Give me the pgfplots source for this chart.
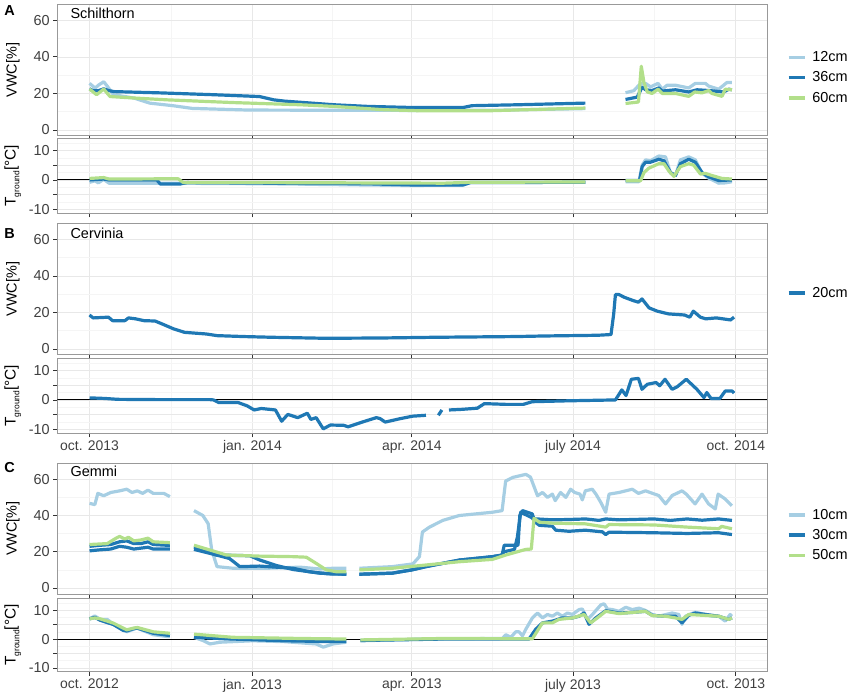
\documentclass[border=0pt]{standalone}
\usepackage{fontspec}
\setmainfont{Liberation Sans}
\usepackage{pgfplots}
\pgfplotsset{compat=1.18}
\definecolor{c1}{HTML}{A6CEE3}
\definecolor{c2}{HTML}{1F78B4}
\definecolor{c3}{HTML}{B2DF8A}
\pgfplotsset{
  base/.style={
    scale only axis, width=709.7bp,
    xmin=-18.2, xmax=382.6,
    xtick={0,92,182,273,365}, minor xtick={46,137,227.5,319},
    grid=both,
    major grid style={draw=black!9, line width=0.7bp},
    minor grid style={draw=black!4, line width=0.5bp},
    axis line style={draw=black!40, line width=1bp},
    tick align=outside, tick pos=left,
    major tick length=4bp, minor tick length=0pt,
    tick style={draw=black!80, line width=0.8bp},
    ticklabel style={text=black!75},
    /pgf/number format/assume math mode=true,
    yticklabel style={font=\fontsize{14.5}{14.5}\selectfont},
    xticklabel style={font=\fontsize{14}{14}\selectfont},
    unbounded coords=jump,
    clip mode=individual,
    every axis plot/.append style={line width=3.2bp, line join=round},
    legend style={draw=none, fill=none, inner sep=0pt, font=\fontsize{14.5}{14.5}\selectfont, row sep=4.7bp,
      /tikz/every odd column/.append style={column sep=3.5bp}},
    legend cell align=left,
    legend image code/.code={\draw[line width=3.5bp] (0bp,0bp) -- (16.5bp,0bp);},
  },
  vwc/.style={base, height=131.7bp, ymin=-3.3, ymax=68.8, ytick={0,20,40,60}, minor ytick={10,30,50}, xticklabels={},
    ylabel={VWC[\%]},
    every axis y label/.style={at={(axis description cs:-0.0626,0.5)}, rotate=90, anchor=center, font=\fontsize{14.5}{14.5}\selectfont}},
  tg/.style={base, height=75bp, ymin=-11.3, ymax=14.1, ytick={-10,-5,0,5,10}, yticklabels={-10,,0,,10},
    minor ytick={-7.5,-2.5,2.5,7.5,12.5},
    ylabel={T\raisebox{-0.45ex}{\fontsize{8.5}{8.5}\selectfont ground}[°C]},
    every axis y label/.style={at={(axis description cs:-0.0626,0.5)}, rotate=90, anchor=center, font=\fontsize{15.5}{15.5}\selectfont}},
}
\begin{document}
\begin{tikzpicture}
\path[use as bounding box] (0,0) rectangle (851bp,693bp);
% ---------------- A VWC
\begin{axis}[vwc, at={(57.3bp,688.7bp)}, anchor=north west,
  legend style={at={(axis description cs:1.0277,0.443)}, anchor=west}]
\addplot[c1] coordinates {(0,25.5)(3.2,22.9)(5,24.5)(8,26.4)(10,24)(13.5,19.3)(25,17.5)(34,14.7)(47,13.3)(58,11.8)(90,10.9)(180,10.7)(230,10.8)(280,11.7)(281,nan)
 (302.7,20.4)(307.4,21.5)(311.2,25.5)(314,25.5)(316.8,23.6)(321.1,25.5)(323.4,22.3)(326.2,24.5)(330.9,24.5)(338.4,23)(342.1,25.5)(347.8,25.5)(349.7,24)(355.3,22.3)(360,26)(362.8,26)};
\addplot[c2] coordinates {(0,22.5)(2,21.5)(5,21.5)(8,22.5)(11,21.5)(14,21)(40,20.3)(70,19.3)(96,18.3)(104,16.5)(110,15.8)(138,13.8)(157,12.9)(182,12.3)(211,12.3)(216,13.3)(242,13.8)(280,14.7)(281,nan)
 (302.7,16.7)(309.3,18)(312.1,23.5)(314,22)(317.7,21.6)(321.5,23)(323.4,21.3)(330.9,22)(338.4,20.8)(343.1,22)(349.7,21.6)(358.1,20.8)(361,22.3)(362.8,22)};
\addplot[c3] coordinates {(0,22.4)(4,19.3)(8,22.4)(11.6,18.3)(25,17.5)(43.6,16.5)(81,15)(119,13.8)(138,12.9)(166,11.1)(187,10.5)(225,10.5)(280,12)(281,nan)
 (302.7,14.5)(310,15.3)(311.6,34.9)(313.1,26)(315,20.8)(317.7,20)(321.1,22.3)(323.4,20)(330.9,20)(338.4,18.4)(341.8,20.8)(345.9,20.3)(349.7,21.6)(351.5,20)(357.2,18.4)(359,22.3)(362.8,22)};
\legend{12cm,36cm,60cm}
\node[anchor=base west, font=\fontsize{14.5}{14.5}\selectfont] at (axis description cs:0.0137,0.894) {Schilthorn};
\node[anchor=base west, font=\bfseries\fontsize{14.5}{14.5}\selectfont] at (axis description cs:-0.0795,0.915) {A};
\end{axis}
% ---------------- A T
\begin{axis}[tg, at={(57.3bp,554.7bp)}, anchor=north west, xticklabels={}]
\addplot[black, line width=0.9bp, forget plot] coordinates {(-18.2,0)(382.6,0)};
\addplot[c1] coordinates {(0,-0.8)(3,-0.3)(5,-1)(8,0.2)(11,-1.1)(40,-1.1)(100,-1.3)(182,-1.9)(211,-1.7)(215,-0.9)(280,-0.8)(281,nan)
 (302.7,-0.6)(310.3,-0.6)(312.1,5)(314,6.8)(316.8,6.5)(321.5,8.1)(325.3,7.8)(328.1,2.3)(330.9,1.5)(333.7,6.8)(338.4,7.8)(342.1,6.8)(345.9,2.3)(349.7,0.6)(355.3,-1.1)(359,-1)(362.8,-0.6)};
\addplot[c2] coordinates {(0,0)(8,0.3)(11,0)(38,0)(40,-1.4)(51,-1.4)(55,-0.9)(100,-1.1)(157,-1.3)(182,-1.7)(211,-1.7)(215,-0.9)(280,-0.8)(281,nan)
 (302.7,-0.2)(310.6,-0.2)(312.1,4.5)(314,6)(316.8,6)(321.5,7)(324.4,6.5)(328.1,2.5)(330.9,1.5)(333.7,5.5)(338.4,7)(342.1,6)(345.9,2.5)(349.7,1)(355.3,-0.2)(362.8,0)};
\addplot[c3] coordinates {(0,0.5)(8,0.8)(11,0.3)(50,0.4)(53,-0.9)(100,-0.9)(200,-1.1)(215,-0.8)(280,-0.7)(281,nan)
 (302.7,-0.3)(311.2,-0.3)(313.1,2.5)(315.9,4)(321.5,5.5)(324.4,5.5)(327.2,3)(330,1.2)(333.7,4.5)(338.4,5.5)(341.2,5)(345,2)(347.8,2.2)(351.5,1.5)(357.2,0.5)(362.8,0.3)};
\end{axis}
% ---------------- B VWC
\begin{axis}[vwc, at={(57.3bp,469.7bp)}, anchor=north west,
  legend style={at={(axis description cs:1.0277,0.471)}, anchor=west}]
\addplot[c2] coordinates {(0,18.6)(2,17)(10.7,17.4)(13,15.5)(20,15.5)(22,17)(26,16.5)(30.7,15.5)(37,15.3)(41,13.7)(47.5,11)(53.7,9.1)(66,8.2)(72,7.3)(87,6.8)(103,6.4)(133,5.85)(164,6)(195,6.4)(241,6.8)(256,7.1)(287,7.5)(294.5,7.9)(296,19)(297,29.8)(299,29.8)(302,28.3)(307,26.5)(310,25.6)(312,27.4)(316,22.5)(320.6,20.7)(327,19.2)(336,18.6)(339,17.4)(341,20.7)(345,17.4)(348,16.5)(354,17)(362,15.9)(364,17.4)};
\legend{20cm}
\node[anchor=base west, font=\fontsize{14.5}{14.5}\selectfont] at (axis description cs:0.0137,0.881) {Cervinia};
\node[anchor=base west, font=\bfseries\fontsize{14.5}{14.5}\selectfont] at (axis description cs:-0.0795,0.886) {B};
\end{axis}
% ---------------- B T
\begin{axis}[tg, at={(57.3bp,334.7bp)}, anchor=north west,
  xticklabels={oct. 2013,jan. 2014,apr. 2014,july 2014,oct. 2014}]
\addplot[black, line width=0.9bp, forget plot] coordinates {(-18.2,0)(382.6,0)};
\addplot[c2] coordinates {(0,0.7)(8.6,0.5)(16,0.2)(40,0.1)(68,0.1)(70,0)(73,-0.9)(84,-0.9)(89,-2)(93,-3.4)(97,-2.9)(105,-3.4)(108.5,-7.2)(112,-4.9)(117.6,-6)(123,-4.5)(125,-6.6)(128,-6)(132,-9.8)(136,-8.5)(143.6,-8.6)(146,-9.1)(154,-7.5)(162,-6)(164,-6.3)(167,-7.5)(175,-6.4)(182.5,-5.5)(190,-5.2)(193,nan)
 (197,-5.2)(199,-3.4)(201,nan)(203,-3.4)(210,-3.2)(219,-2.8)(223,-1.25)(235,-1.5)(245,-1.5)(250,-0.6)(270,-0.3)(297,0)(300.6,3.4)(303,1.5)(306,7)(310,7.3)(312,3.6)(315,5.3)(320,5.9)(322,4.8)(325,7)(329,3.6)(332,4.5)(337,7)(340,5.3)(343,3.6)(347,0.8)(348.6,2.5)(351,0.5)(356,0.5)(359,3)(363,3)(364,2.3)};
\end{axis}
% ---------------- C VWC
\begin{axis}[vwc, at={(57.3bp,229.7bp)}, anchor=north west, height=130.7bp,
  legend style={at={(axis description cs:1.0277,0.451)}, anchor=west}]
\addplot[c1] coordinates {(0,46.7)(3,46)(4.7,52.2)(8,50.9)(12,52.7)(17,53.6)(21,54.5)(24,52.7)(27,53.6)(30,52.2)(33,54)(36,52.2)(42,52.2)(45.4,50.4)(50,nan)
 (59,42.7)(64,40)(67,35.5)(69,21)(72,11.8)(81,10.9)(100,10.9)(119,11.5)(130,10.5)(137.5,10.9)(145,10.9)(149,nan)
 (152.4,10.9)(171,11.8)(182.6,13.3)(186.3,17.3)(188,30.9)(192,33.6)(199.5,37.3)(208.8,40)(227.6,41.8)(233,42.7)(235,59)(239,61)(246.4,62.7)(249,61.2)(253,50.9)(255.8,52.7)(258.6,50)(261.4,51.8)(263,48.2)(266,52.7)(269,50)(271.7,54.5)(274,52.7)(277,51.8)(278.3,48.6)(280,53.6)(283.9,54.5)(286,51.8)(288.7,47.3)(291.5,41.8)(293.4,51.8)(299,52.7)(302.8,53.6)(306.5,54.5)(310,52.2)(314,53.6)(318,52.2)(321.5,51)(325.3,46.4)(329,51)(334.6,53.6)(337,51.8)(342,46.4)(345.9,51.8)(349.6,46.4)(353.4,43.6)(355,51.8)(359,49.1)(362.8,45.4)};
\addplot[c2] coordinates {(0,23)(5,23.5)(12,24)(17,25.5)(21,26)(25,24.5)(29,24.5)(33,25.5)(36,24)(45.4,23.5)(50,nan)
 (59,21.3)(71.7,18.2)(90.5,17.8)(96,15.5)(105.6,12.4)(115,10.2)(130,8.2)(145,7.6)(149,nan)
 (152.4,7.6)(171,8.2)(182,10)(190,11.8)(208.8,15.4)(227.6,17.3)(233,18.2)(234.2,23.6)(242,23.6)(243,40)(244.5,42.7)(250,40.9)(251,38.2)(261.4,37.6)(270.8,37.8)(280.2,38.1)(287.8,37.3)(291.5,38.1)(299,37.6)(318.7,38.1)(328,37.3)(337.5,38.1)(346,37.4)(355.3,38.1)(362.8,37.3)};
\addplot[c2, forget plot] coordinates {(0,20.5)(5,21)(12,21.5)(17,23)(21,22.5)(25,21.5)(29,22)(33,22.5)(36,21.5)(45.4,21.5)(50,nan)
 (59,22.7)(71.7,18.2)(79,16.3)(84.9,11.8)(96,12.1)(115,10.9)(124,9)(135,7.8)(145,7.6)(149,nan)
 (152.4,7.6)(171,8.2)(182,10)(190,11.8)(208.8,15.4)(227.6,17.3)(233,18.2)(234,20)(240,21.3)(241.6,28)(243.5,41.8)(250,38.7)(251.6,36.4)(254,34.6)(261.4,34.1)(263.3,31.9)(270.8,31.3)(280,31.9)(289.6,31)(291.5,29.5)(293.4,30.8)(317.8,30.5)(337.5,30.1)(355.3,30.5)(362.8,29.5)};
\addplot[c3] coordinates {(0,24)(10,24.5)(15,27.5)(17,28.5)(20,27)(22,28)(25,26)(29,26.5)(33,27.5)(36,25.5)(45.4,25)(50,nan)
 (59,23.6)(77.4,18.2)(96,17.6)(115,17.3)(122.4,17)(128,13.6)(133.7,10)(139.3,9)(145,9)(149,nan)
 (152.4,10)(171,10.9)(190,12.7)(208.8,14.5)(227.6,15.8)(235,18.2)(246.4,21.3)(249.5,21.5)(251,38.5)(254,36.3)(261.4,35.8)(280,35.4)(291.5,33.6)(293.4,35)(318.7,34.8)(337.5,33.6)(355.3,32.7)(357,34)(362.8,32.7)};
\legend{10cm,30cm,50cm}
\node[anchor=base west, font=\fontsize{14.5}{14.5}\selectfont] at (axis description cs:0.0137,0.897) {Gemmi};
\node[anchor=base west, font=\bfseries\fontsize{14.5}{14.5}\selectfont] at (axis description cs:-0.0795,0.926) {C};
\end{axis}
% ---------------- C T
\begin{axis}[tg, at={(57.3bp,94.7bp)}, anchor=north west, height=73.4bp,
  xticklabels={oct. 2012,jan. 2013,apr. 2013,july 2013,oct. 2013}]
\addplot[black, line width=0.9bp, forget plot] coordinates {(-18.2,0)(382.6,0)};
\addplot[c1] coordinates {(0,7)(3,8)(6,6.8)(10,6.8)(13.5,5.1)(19,3.4)(21,2.5)(25,3.4)(26.7,3.8)(30,3)(36,1.5)(43.6,0.9)(45.4,0.9)(50,nan)
 (59,0.6)(64,-0.5)(68,-1.7)(73.6,-1.1)(92,-0.6)(110,-0.9)(128,-1.7)(132,-2.8)(137.5,-1.7)(145,-1.1)(149,nan)
 (153,-0.6)(190,0)(230,0.2)(233.2,0.2)(235.1,1.5)(237.9,0.6)(240.7,2.5)(242.6,2.5)(244.5,1.1)(246.4,3.4)(250.1,7.3)(253,9)(255.8,7.3)(258.6,8.5)(261.4,7.9)(264.2,9)(267,7.9)(269.9,9)(272.7,8.5)(276.5,10.2)(278.3,10.4)(281.2,6.8)(284,8.5)(288.7,11.8)(290.6,12.2)(292.5,10.4)(295.3,10.2)(299,9.6)(302.8,11)(306.5,10.2)(310.3,10.7)(314,9.9)(317.8,8.5)(321.5,7.9)(329,9)(332.8,8.5)(334.6,5.1)(336.5,7.9)(342.1,9.3)(347.7,8.5)(351.5,7.9)(355.3,7.9)(359,6.2)(361.8,8.5)(362.8,7.9)};
\addplot[c2] coordinates {(0,7)(3,7.5)(6,6.5)(13.5,5)(19,3)(21,2.8)(25,3.6)(27,3.8)(30,3.2)(36,2)(45.4,1.2)(50,nan)
 (59,0.6)(81,0)(110,-0.6)(137,-0.9)(145,-0.9)(149,nan)
 (153,-0.5)(200,0)(248.2,0)(252,3.4)(255.8,5.6)(261.4,6.2)(267,7.3)(272.7,7.3)(276.5,7.9)(279.3,9)(282.1,5.1)(285.9,7.3)(291.5,9.8)(299,9)(306.5,9.2)(314,9.6)(317.8,8.2)(325.3,7.9)(330.9,7.9)(334.6,5.6)(338.4,8.2)(342.1,9)(355.3,7.9)(360.9,6.8)(362.8,7.3)};
\addplot[c3] coordinates {(0,7)(3,7.3)(6,7)(13.5,5.5)(19,3.8)(21,3.2)(25,3.8)(27,4)(30,3.5)(36,2.5)(45.4,2)(50,nan)
 (59,1.7)(81,0.6)(119,0.2)(145,0)(149,nan)
 (153,-0.3)(200,0.2)(250.1,0.1)(255.8,5.6)(261.4,5.6)(265.1,6.8)(272.7,7.3)(279.3,8.5)(283,5.6)(286.8,7.3)(291.5,9.6)(299,8.8)(314,9.6)(317.8,8.1)(325.3,7.9)(330.9,7.3)(334.6,6.8)(338.4,8.5)(355.3,7.9)(360.9,6.8)(362.8,7.3)};
\end{axis}
\end{tikzpicture}
\end{document}
